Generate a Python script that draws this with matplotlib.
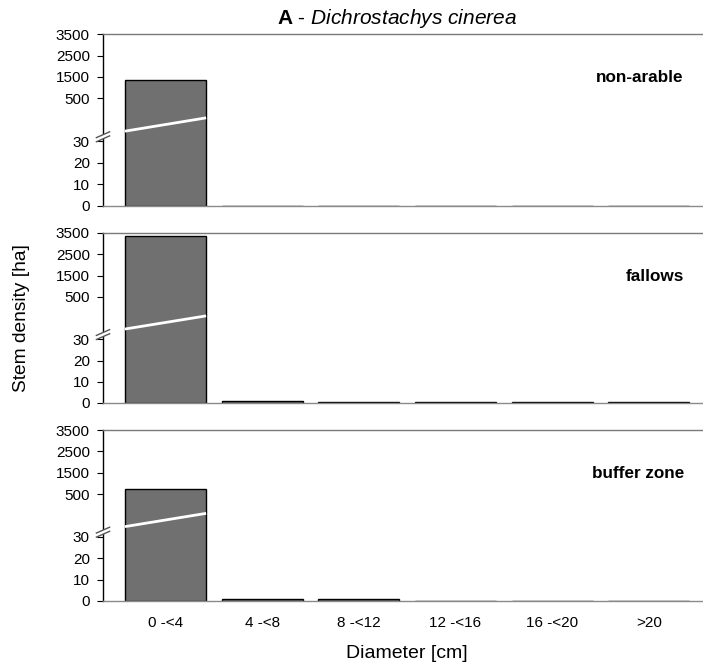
import numpy as np
import matplotlib
matplotlib.use("Agg")
import matplotlib.pyplot as plt
from matplotlib.transforms import blended_transform_factory
from matplotlib.patches import Polygon

plt.rcParams["font.family"] = ["Liberation Sans", "DejaVu Sans"]
plt.rcParams["mathtext.fontset"] = "custom"
plt.rcParams["mathtext.rm"] = "Liberation Sans"
plt.rcParams["mathtext.it"] = "Liberation Sans:italic"
plt.rcParams["mathtext.bf"] = "Liberation Sans:bold"

# Stem density per diameter class and land use
classes = ["0 -<4", "4 -<8", "8 -<12", "12 -<16", "16 -<20", ">20"]
land_uses = ["non-arable", "fallows", "buffer zone"]
non_arable = [1350, 0.2, 0.2, 0.2, 0.2, 0.2]
fallows = [3350, 1.0, 0.6, 0.3, 0.3, 0.3]
buffer_zone = [760, 1.0, 1.0, 0.2, 0.2, 0.2]
series = [non_arable, fallows, buffer_zone]
yticks = [0, 10, 20, 30, 500, 1500, 2500, 3500]

# Broken y scale: 0-30 and 500-3500 share the same tick spacing
knots_v = [0, 30, 500, 3500, 10000]
knots_p = [0, 3, 5, 8, 14.5]


def fwd(v):
    return np.interp(v, knots_v, knots_p)


def inv(p):
    return np.interp(p, knots_p, knots_v)


fig = plt.figure(figsize=(7.03, 6.70), dpi=100)

left, width = 103 / 703, 600 / 703
panels = [(464 / 670, 172 / 670), (267 / 670, 170 / 670), (69 / 670, 171 / 670)]
x = np.arange(len(classes))
bar_w = 0.84

for i, (vals, name) in enumerate(zip(series, land_uses)):
    bottom, height = panels[i]
    ax = fig.add_axes([left, bottom, width, height])
    ax.set_yscale("function", functions=(fwd, inv))
    ax.bar(x, vals, width=bar_w, color="#707070", edgecolor="black",
           linewidth=1.0, zorder=2)
    ax.set_ylim(0, 3500)
    ax.set_xlim(-0.647, 5.56)
    ax.set_yticks(yticks)
    ax.set_yticklabels([str(t) for t in yticks])
    ax.yaxis.set_minor_locator(matplotlib.ticker.NullLocator())
    ax.tick_params(axis="y", direction="out", length=4.5, width=0.8,
                   labelsize=11, pad=5)
    ax.set_xticks(x)
    if i == 2:
        ax.set_xticklabels(classes)
        ax.tick_params(axis="x", length=0, labelsize=11, pad=11)
    else:
        ax.set_xticklabels([])
        ax.tick_params(axis="x", length=0)

    ax.spines["right"].set_visible(False)
    ax.spines["top"].set_color("#7a7a7a")
    ax.spines["top"].set_linewidth(1.0)
    ax.spines["bottom"].set_color("#8a8a8a")
    ax.spines["bottom"].set_linewidth(1.0)
    ax.spines["left"].set_color("black")
    ax.spines["left"].set_linewidth(1.0)

    ax.text(0.968, 0.745, name, transform=ax.transAxes, ha="right",
            va="center", fontsize=12.3, fontweight="bold")

    # White break line across the tall first bar
    tr = blended_transform_factory(ax.transData, ax.transAxes)
    y0 = 3.48 / 8
    y1 = 4.10 / 8
    ax.plot([x[0] - bar_w / 2, x[0] + bar_w / 2], [y0, y1], color="white",
            linewidth=2.0, transform=tr, zorder=3, solid_capstyle="butt")

    # Break marks on the y axis
    yc = 3.22 / 8
    dx, dy, gap = 0.011, 0.017, 0.012
    gap_poly = Polygon([[-dx, yc - gap - dy], [dx, yc - gap + dy],
                        [dx, yc + gap + dy], [-dx, yc + gap - dy]],
                       closed=True, facecolor="white", edgecolor="none",
                       transform=ax.transAxes, clip_on=False, zorder=5)
    ax.add_patch(gap_poly)
    for s in (-gap, gap):
        ax.plot([-dx, dx], [yc + s - dy, yc + s + dy], color="#555555",
                linewidth=1.0, transform=ax.transAxes, clip_on=False,
                zorder=6)

fig.text(397 / 703, 0.973,
         r"$\mathbf{A}$" + " - " + r"$\mathit{Dichrostachys\ cinerea}$",
         ha="center", va="center", fontsize=15)
fig.text(22 / 703, 0.525, "Stem density [ha]", rotation=90, ha="center",
         va="center", fontsize=13.8)
fig.text(407 / 703, 0.024, "Diameter [cm]", ha="center", va="center",
         fontsize=14)

fig.savefig("out.png", dpi=100)
